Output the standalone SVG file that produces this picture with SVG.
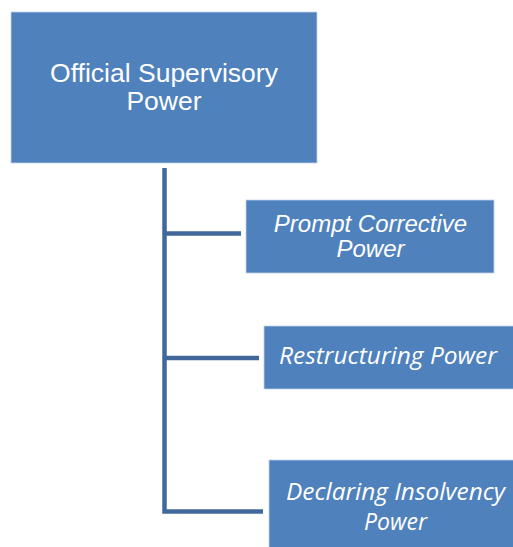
<svg xmlns="http://www.w3.org/2000/svg" width="513" height="547" viewBox="0 0 513 547">
<style>
.box{fill:#4F81BD;stroke:#C3D3E9;stroke-width:0.8}
.conn{fill:none;stroke:#41689B;stroke-width:4.5;stroke-linejoin:miter}
.t1{font-family:"Liberation Sans",Arial,sans-serif;fill:#FFFFFF;text-anchor:middle}
.t2{font-family:"Open Sans","Noto Sans",sans-serif;font-style:italic;fill:#FFFFFF;text-anchor:middle}
</style>
<rect width="513" height="547" fill="#FFFFFF"/>
<g id="connectors">
<path class="conn" d="M164.5,168 V511.5 H263"/>
<path class="conn" d="M164.5,233.5 H241"/>
<path class="conn" d="M164.5,358 H259"/>
</g>
<g id="node-official">
<rect class="box" x="11" y="12" width="306" height="151"/>
<text class="t1" font-size="26.5" x="164" y="82">Official Supervisory</text>
<text class="t1" font-size="26.5" x="164" y="110">Power</text>
</g>
<g id="node-prompt">
<rect class="box" x="246" y="200" width="248" height="73"/>
<text class="t1" font-size="24" font-style="italic" x="370.5" y="232">Prompt Corrective</text>
<text class="t1" font-size="24" font-style="italic" x="370.5" y="257">Power</text>
</g>
<g id="node-restructuring">
<rect class="box" x="264" y="326" width="260" height="63"/>
<text class="t2" font-size="23" x="388" y="364" textLength="218" lengthAdjust="spacingAndGlyphs">Restructuring Power</text>
</g>
<g id="node-insolvency">
<rect class="box" x="269" y="460" width="260" height="100"/>
<text class="t2" font-size="23" x="395.5" y="500" textLength="219" lengthAdjust="spacingAndGlyphs">Declaring Insolvency</text>
<text class="t2" font-size="23" x="395.5" y="530">Power</text>
</g>
</svg>
